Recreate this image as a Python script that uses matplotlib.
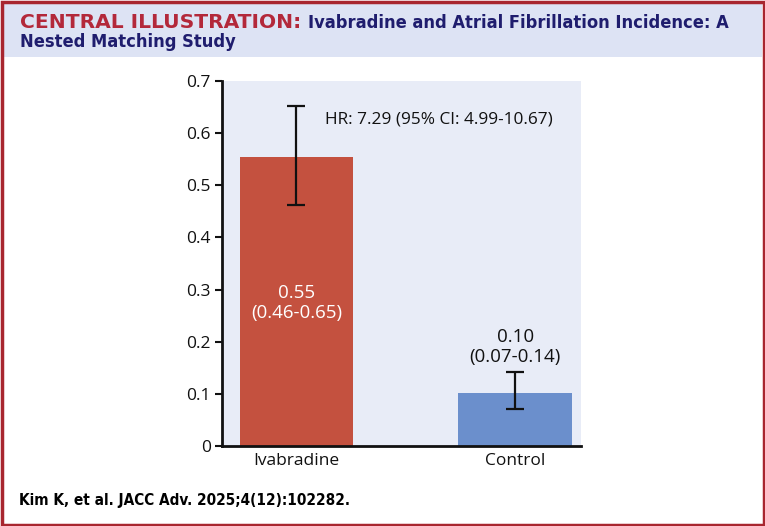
import matplotlib.pyplot as plt
from matplotlib.patches import Rectangle

groups = ['Ivabradine', 'Control']
rates = [0.554, 0.101]
ci_low = [0.462, 0.071]
ci_high = [0.652, 0.142]
bar_labels = ['0.55\n(0.46-0.65)', '0.10\n(0.07-0.14)']
hr_text = 'HR: 7.29 (95% CI: 4.99-10.67)'
yticks = [0, 0.1, 0.2, 0.3, 0.4, 0.5, 0.6, 0.7]
ytick_labels = ['0', '0.1', '0.2', '0.3', '0.4', '0.5', '0.6', '0.7']

red = '#c4513f'
blue = '#6b8fcc'
border = '#a8262f'
navy = '#1f1d6e'

plt.rcParams['font.family'] = ['Open Sans', 'DejaVu Sans']

W, H = 765, 526
fig = plt.figure(figsize=(W / 100, H / 100), dpi=100, facecolor='white')

# header band and frame
fig.patches.append(Rectangle((3 / W, 1 - 57 / H), 1 - 6 / W, 54 / H, transform=fig.transFigure,
                             facecolor='#dde3f4', edgecolor='none', zorder=1))
fig.patches.append(Rectangle((1.5 / W, 1.5 / H), 1 - 3 / W, 1 - 3 / H, transform=fig.transFigure,
                             facecolor='none', edgecolor=border, linewidth=2.5, zorder=5))

t = fig.text(20 / W, 1 - 23 / H, 'CENTRAL ILLUSTRATION:', color='#b3283a', fontsize=14.6,
             fontweight='bold', va='center', ha='left', family=['DejaVu Sans'])
fig.canvas.draw()
bb = t.get_window_extent()
fig.text((bb.x1 + 7) / W, 1 - 23 / H, 'Ivabradine and Atrial Fibrillation Incidence: A',
         color=navy, fontsize=13.1, fontweight='bold', fontstretch='condensed', va='center',
         ha='left', family=['DejaVu Sans'])
fig.text(20 / W, 1 - 42 / H, 'Nested Matching Study', color=navy, fontsize=13.1,
         fontweight='bold', fontstretch='condensed', va='center', ha='left',
         family=['DejaVu Sans'])

fig.text(19 / W, 1 - 500 / H, 'Kim K, et al. JACC Adv. 2025;4(12):102282.', color='black',
         fontsize=11, fontweight='bold', fontstretch='condensed', va='center', ha='left',
         family=['DejaVu Sans'])

# chart
ax = fig.add_axes([222 / W, 1 - 446 / H, (581 - 222) / W, (446 - 81) / H], zorder=3)
ax.set_facecolor('#e8ecf7')
x = [0, 1]
yerr = [[r - lo for r, lo in zip(rates, ci_low)], [hi - r for r, hi in zip(rates, ci_high)]]
ax.bar(x, rates, width=0.52, color=[red, blue], zorder=2)
ax.errorbar(x, rates, yerr=yerr, fmt='none', ecolor='#111111', elinewidth=1.6,
            capsize=6.5, capthick=1.6, zorder=3)

ax.text(0, 0.275, bar_labels[0], ha='center', va='center', color='white', fontsize=13.5,
        linespacing=1.15, zorder=4)
ax.text(1, 0.19, bar_labels[1], ha='center', va='center', color='#111111', fontsize=13.5,
        linespacing=1.15, zorder=4)
ax.text(0.13, 0.627, hr_text, ha='left', va='center', color='#111111', fontsize=12.4, zorder=4)

ax.set_xlim(-0.34, 1.3)
ax.set_ylim(0, 0.7)
ax.set_yticks(yticks)
ax.set_yticklabels(ytick_labels)
ax.set_xticks(x)
ax.set_xticklabels(groups)
ax.tick_params(axis='y', length=5, width=1.5, labelsize=12.5, pad=3, colors='#111111')
ax.tick_params(axis='x', length=0, labelsize=12.5, pad=5, colors='#111111')
ax.spines['top'].set_visible(False)
ax.spines['right'].set_visible(False)
ax.spines['left'].set_linewidth(2)
ax.spines['bottom'].set_linewidth(2)
ax.spines['left'].set_color('#111111')
ax.spines['bottom'].set_color('#111111')

fig.savefig('out.png', dpi=100)
